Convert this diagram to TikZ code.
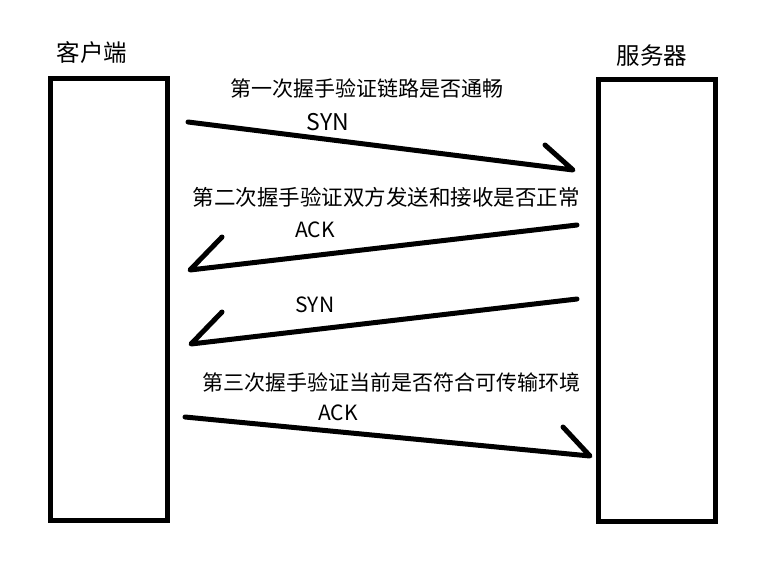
\documentclass[tikz,border=0pt]{standalone}
\usepackage{fontspec}
\setmainfont{Noto Sans CJK SC}
\usetikzlibrary{positioning}
\tikzset{
  hostbox/.style={draw=black,line width=5pt,minimum width=117pt,minimum height=442pt,inner sep=0pt},
  hostname/.style={inner sep=0pt,font=\fontsize{23.5}{26}\selectfont},
  stepnote/.style={inner sep=0pt,font=\fontsize{21}{24}\selectfont},
  flag/.style={inner sep=0pt,font=\fontsize{21}{24}\selectfont},
  handline/.style={line width=5pt,line cap=round,line join=round},
}
\begin{document}
\begin{tikzpicture}[x=1pt,y=-1pt]
  \useasboundingbox (0,0) rectangle (762,578);
  % hosts
  \node[hostbox] (client) at (108.5,299) {};
  \node[hostbox] (server) at (656.5,300) {};
  \node[hostname] (clientname) at (92,53) {客户端};
  \node[hostname] (servername) at (652,56) {服务器};
  % notes
  \node[stepnote] (note1) at (367,88) {第一次握手验证链路是否通畅};
  \node[flag,font=\fontsize{23}{26}\selectfont] (syn1) at (328,122) {SYN};
  \node[stepnote,font=\fontsize{21.5}{24}\selectfont] (note2) at (386,197) {第二次握手验证双方发送和接收是否正常};
  \node[flag] (ack1) at (315,230) {ACK};
  \node[flag] (syn2) at (315,305) {SYN};
  \node[stepnote] (note3) at (391,382) {第三次握手验证当前是否符合可传输环境};
  \node[flag] (ack2) at (338,413) {ACK};
  % arrow ends
  \coordinate (c1) at (188,122);
  \coordinate (s1) at (573,170);
  \coordinate (s2) at (577,225);
  \coordinate (c2) at (190,270);
  \coordinate (s3) at (577,299);
  \coordinate (c3) at (191,344);
  \coordinate (c4) at (185,417);
  \coordinate (s4) at (590,456);
  \draw[handline] (c1) -- (s1) -- ++(-28,-25);
  \draw[handline] (s2) -- (c2) -- ++(32,-33);
  \draw[handline] (s3) -- (c3) -- ++(31,-32);
  \draw[handline] (c4) -- (s4) -- ++(-27,-29);
\end{tikzpicture}
\end{document}
